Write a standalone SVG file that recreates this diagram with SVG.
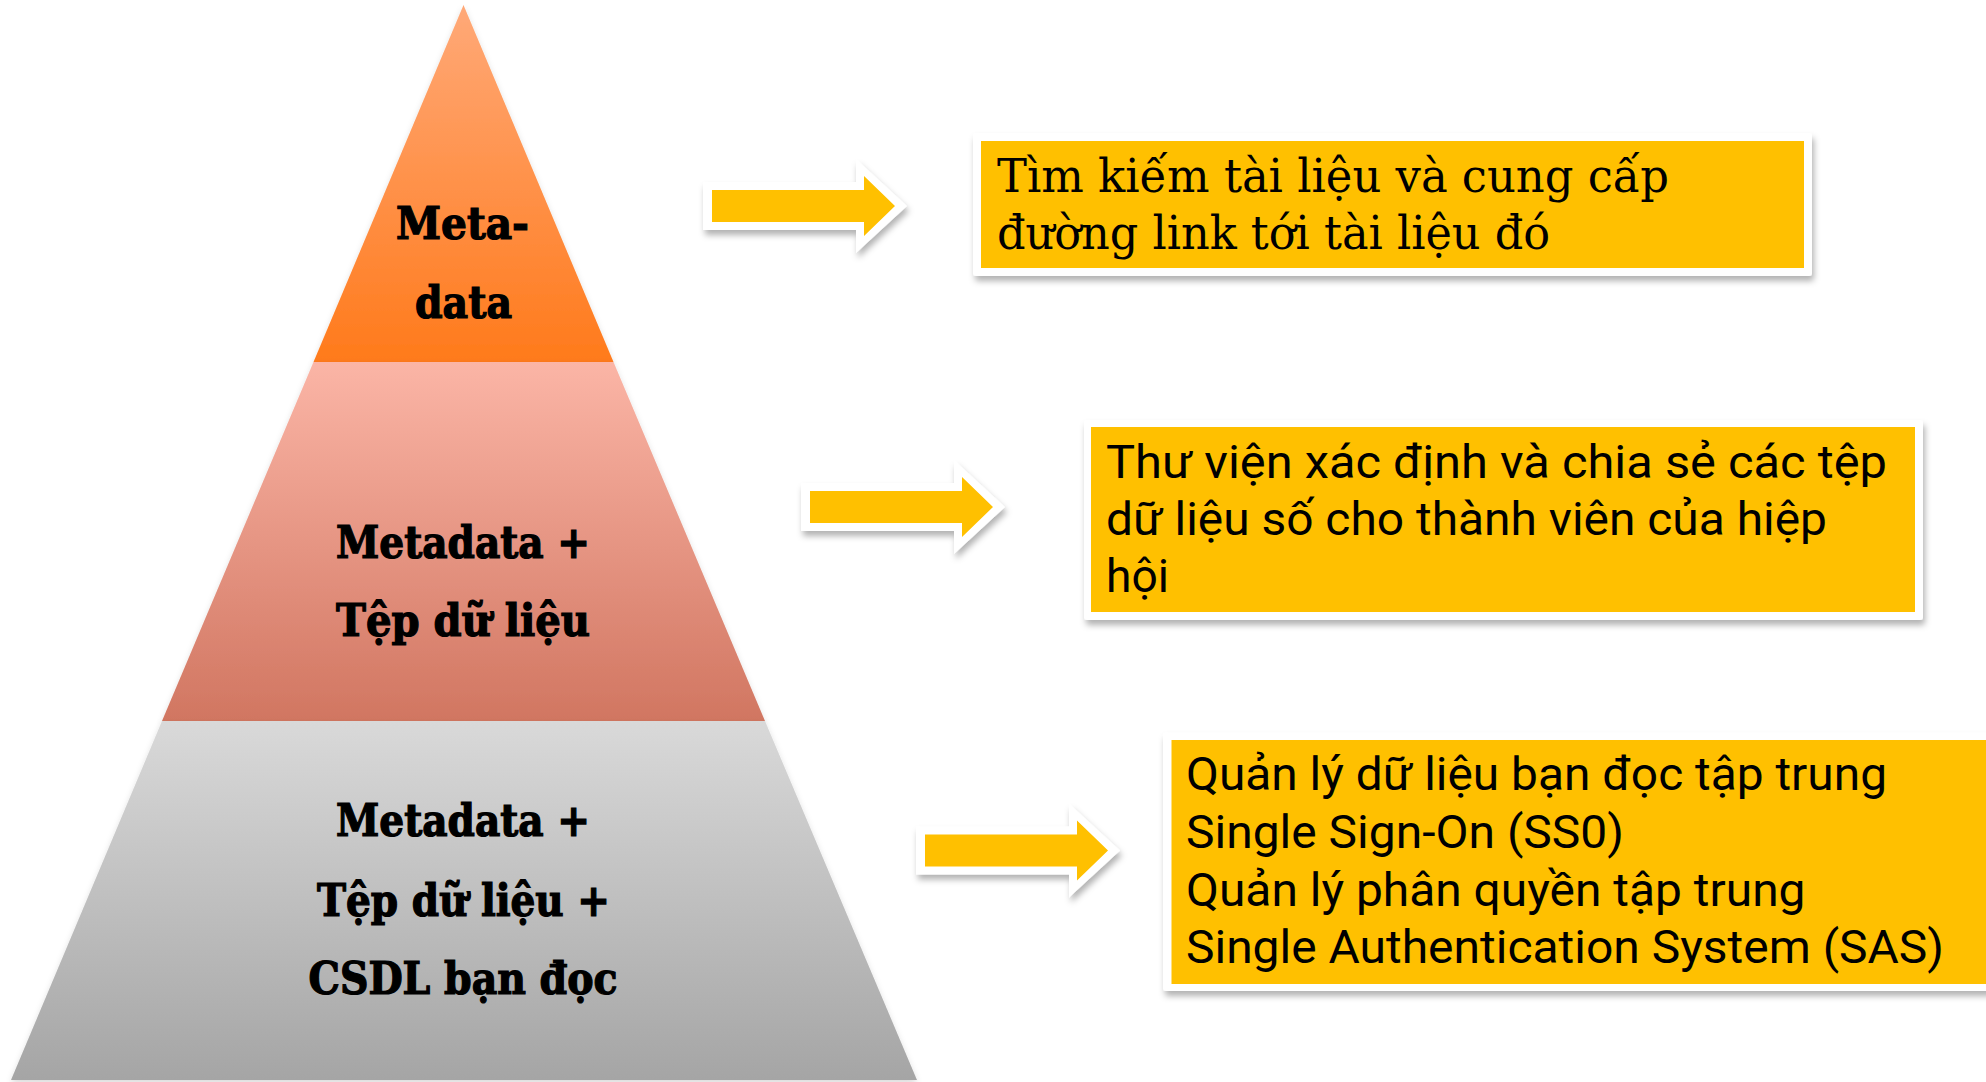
<svg xmlns="http://www.w3.org/2000/svg" width="1986" height="1082" viewBox="0 0 1986 1082">
<style>
.pt{font-family:"DejaVu Serif","Liberation Serif",serif;font-weight:bold;font-stretch:condensed;font-size:45px;fill:#000;stroke:#000;stroke-width:1.2px}
.bs{font-family:"DejaVu Serif","Liberation Serif",serif;font-stretch:condensed;font-size:46px;fill:#000}
.bt{font-family:Roboto,"Liberation Sans",sans-serif;font-size:46px;fill:#000}
.frame{fill:#fff;filter:url(#sh)}
.yel{fill:#FFC000}
</style>
<defs>
<linearGradient id="g1" gradientUnits="userSpaceOnUse" x1="0" y1="5" x2="0" y2="362"><stop offset="0" stop-color="#FFA978"/><stop offset="1" stop-color="#FF7A1B"/></linearGradient>
<linearGradient id="g2" gradientUnits="userSpaceOnUse" x1="0" y1="362" x2="0" y2="721"><stop offset="0" stop-color="#FBB5A6"/><stop offset="1" stop-color="#D17661"/></linearGradient>
<linearGradient id="g3" gradientUnits="userSpaceOnUse" x1="0" y1="721" x2="0" y2="1080"><stop offset="0" stop-color="#D9D9D9"/><stop offset="1" stop-color="#A5A5A5"/></linearGradient>
<filter id="sh" x="-10%" y="-20%" width="120%" height="150%"><feDropShadow dx="2" dy="5" stdDeviation="3" flood-color="#000" flood-opacity="0.3"/></filter>
<filter id="psh" x="-10%" y="-10%" width="120%" height="120%"><feDropShadow dx="0" dy="3" stdDeviation="3" flood-color="#000" flood-opacity="0.15"/></filter>
<g id="arrow">
<polygon points="0,-24 153,-24 153,-47 204,0 153,47 153,24 0,24" fill="#fff" filter="url(#sh)"/>
<polygon points="9,-16 161,-16 161,-30 192,0 161,30 161,16 9,16" fill="#FFC000"/>
</g>
</defs>
<rect width="1986" height="1082" fill="#fff"/>
<g id="pyramid">
<g id="level1">
<polygon points="463.5,5 613.5,362 313.5,362" fill="url(#g1)" filter="url(#psh)"/>
<text class="pt" x="396" y="239" textLength="133" lengthAdjust="spacingAndGlyphs">Meta-</text>
<text class="pt" x="415" y="317.5" textLength="97" lengthAdjust="spacingAndGlyphs">data</text>
</g>
<g id="level2">
<polygon points="313.5,362 613.5,362 765,721 162,721" fill="url(#g2)" filter="url(#psh)"/>
<text class="pt" x="336" y="557.5" textLength="254" lengthAdjust="spacingAndGlyphs">Metadata +</text>
<text class="pt" x="336" y="636" textLength="254" lengthAdjust="spacingAndGlyphs">Tệp dữ liệu</text>
</g>
<g id="level3">
<polygon points="162,721 765,721 917,1080 11,1080" fill="url(#g3)" filter="url(#psh)"/>
<text class="pt" x="336" y="836" textLength="254" lengthAdjust="spacingAndGlyphs">Metadata +</text>
<text class="pt" x="317" y="915.5" textLength="293" lengthAdjust="spacingAndGlyphs">Tệp dữ liệu +</text>
<text class="pt" x="308.5" y="994" textLength="309" lengthAdjust="spacingAndGlyphs">CSDL bạn đọc</text>
</g>
</g>
<g id="connectors">
<use href="#arrow" transform="translate(703,206)"/>
<use href="#arrow" transform="translate(801,507)"/>
<use href="#arrow" transform="translate(916,850.5)"/>
</g>
<g id="box1">
<rect class="frame" x="973" y="133" width="839" height="143" rx="3"/>
<rect class="yel" x="981" y="141" width="823" height="127"/>
<text class="bs" x="997" y="191.5" textLength="672" lengthAdjust="spacingAndGlyphs">Tìm kiếm tài liệu và cung cấp</text>
<text class="bs" x="997" y="249" textLength="553" lengthAdjust="spacingAndGlyphs">đường link tới tài liệu đó</text>
</g>
<g id="box2">
<rect class="frame" x="1084" y="420" width="839" height="200" rx="3"/>
<rect class="yel" x="1091" y="427" width="824" height="185"/>
<text class="bt" x="1106" y="478" textLength="781" lengthAdjust="spacingAndGlyphs">Thư viện xác định và chia sẻ các tệp</text>
<text class="bt" x="1106" y="534.5" textLength="721" lengthAdjust="spacingAndGlyphs">dữ liệu số cho thành viên của hiệp</text>
<text class="bt" x="1106" y="592" textLength="63" lengthAdjust="spacingAndGlyphs">hội</text>
</g>
<g id="box3">
<rect class="frame" x="1163" y="732.5" width="840" height="258.5" rx="3"/>
<rect class="yel" x="1171.5" y="740" width="830" height="244"/>
<text class="bt" x="1186" y="790" textLength="701" lengthAdjust="spacingAndGlyphs">Quản lý dữ liệu bạn đọc tập trung</text>
<text class="bt" x="1186" y="847.5" textLength="438" lengthAdjust="spacingAndGlyphs">Single Sign-On (SS0)</text>
<text class="bt" x="1186" y="906" textLength="619.5" lengthAdjust="spacingAndGlyphs">Quản lý phân quyền tập trung</text>
<text class="bt" x="1186" y="963" textLength="758" lengthAdjust="spacingAndGlyphs">Single Authentication System (SAS)</text>
</g>
</svg>
